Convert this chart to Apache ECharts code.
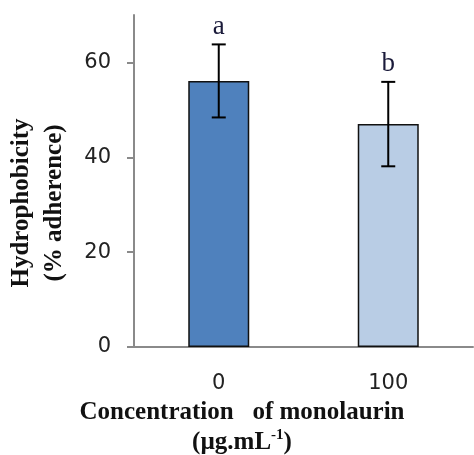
<!DOCTYPE html>
<html>
<head>
<meta charset="utf-8">
<script src="https://cdn.jsdelivr.net/npm/echarts@6/dist/echarts.min.js"></script>
<style>html,body{margin:0;padding:0;background:#fff}#c{width:474px;height:455px}</style>
</head>
<body>
<div id="c"></div>
<script>
var categories = ['0', '100'];
var means = [56.1, 47.0];
var errors = [7.7, 8.9];
var letters = ['a', 'b'];
var barColors = ['#4F81BD', '#B9CDE5'];
var yTicks = [0, 20, 40, 60];

var chart = echarts.init(document.getElementById('c'));
var serif = '"Liberation Serif", "Times New Roman", serif';
var sans = '"DejaVu Sans", Verdana, sans-serif';
chart.setOption({
  animation: false,
  grid: { left: 134, right: 1, top: 15, bottom: 108, containLabel: false, outerBoundsMode: 'none' },
  title: {
    left: 237, top: 393, textAlign: 'center',
    text: '{b|Concentration   of monolaurin}\n{b|(µg.mL}{s|-1}{b|)}',
    textStyle: {
      rich: {
        b: { fontFamily: serif, fontWeight: 'bold', fontSize: 25, color: '#111', lineHeight: 30 },
        s: { fontFamily: serif, fontWeight: 'bold', fontSize: 15, color: '#111', verticalAlign: 'top', lineHeight: 30, padding: [0, 0, 10, 0] }
      }
    }
  },
  xAxis: {
    type: 'category', data: categories,
    axisLine: { lineStyle: { color: '#8a8a8a', width: 2 } },
    axisTick: { length: 7, lineStyle: { color: '#8a8a8a', width: 2 } },
    axisLabel: { margin: 26, fontFamily: sans, fontSize: 21, color: '#222' }
  },
  yAxis: {
    type: 'value', min: 0, max: 70, interval: 10,
    name: 'Hydrophobicity\n(% adherence)', nameLocation: 'middle', nameRotate: 90, nameGap: 63,
    nameTextStyle: { fontFamily: serif, fontWeight: 'bold', fontSize: 25, color: '#111', lineHeight: 33, padding: [0, 44, 0, 0] },
    splitLine: { show: false },
    axisLine: { show: true, lineStyle: { color: '#8a8a8a', width: 2 } },
    axisTick: { show: true, length: 7, customValues: yTicks, lineStyle: { color: '#8a8a8a', width: 2 } },
    axisLabel: { customValues: yTicks, margin: 23, fontFamily: sans, fontSize: 21, color: '#222' }
  },
  series: [
    {
      type: 'bar', barWidth: 61,
      data: means.map(function (v, i) {
        return { value: v, itemStyle: { color: barColors[i], borderColor: '#111', borderWidth: 1.5 } };
      })
    },
    {
      type: 'custom', z: 10,
      data: means.map(function (v, i) { return [i, v, errors[i]]; }),
      renderItem: function (params, api) {
        var i = api.value(0), m = api.value(1), e = api.value(2);
        var top = api.coord([i, m + e]);
        var bot = api.coord([i, m - e]);
        var cw = 7;
        var st = { stroke: '#000', lineWidth: 2 };
        return {
          type: 'group',
          children: [
            { type: 'line', shape: { x1: top[0], y1: top[1], x2: bot[0], y2: bot[1] }, style: st },
            { type: 'line', shape: { x1: top[0] - cw, y1: top[1], x2: top[0] + cw, y2: top[1] }, style: st },
            { type: 'line', shape: { x1: bot[0] - cw, y1: bot[1], x2: bot[0] + cw, y2: bot[1] }, style: st },
            { type: 'text', x: top[0], y: top[1] - 4, style: { text: letters[params.dataIndex], fontFamily: serif, fontSize: 27, fill: '#1a1a3a', align: 'center', verticalAlign: 'bottom' } }
          ]
        };
      }
    }
  ]
});
</script>
</body>
</html>
